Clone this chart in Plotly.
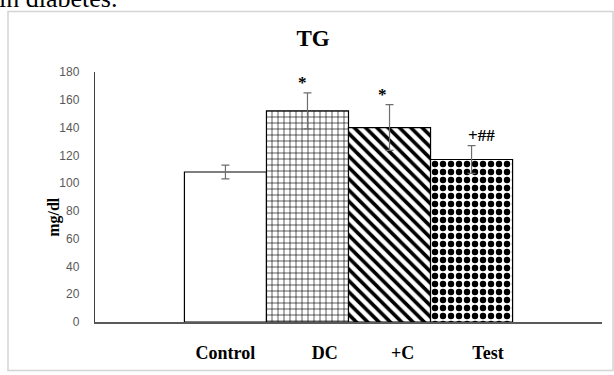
import plotly.graph_objects as go

# ---- data ----
categories = ["Control", "DC", "+C", "Test"]
tg_mean = [108, 152, 140, 117]
tg_err = [5, 13, 16.5, 10]
sig_labels = ["", "*", "*", "+##"]
y_ticks = [0, 20, 40, 60, 80, 100, 120, 140, 160, 180]

# ---- layout geometry (pixels) ----
W, H = 614, 375
PL, PR, PT, PB = 95, 602, 72, 324


def px_x(p):
    return (p - PL) / (PR - PL)


def px_y(p):
    return (PB - p) / (PB - PT)


xs = list(range(len(categories)))
label_pos = [0.0, 1.21, 2.16, 3.2]

fig = go.Figure()
fig.add_trace(go.Bar(
    x=xs,
    y=tg_mean,
    width=1.0,
    error_y=dict(type="data", array=tg_err, visible=True,
                 color="#6e6e6e", thickness=1.2, width=4),
    marker=dict(
        color="white",
        line=dict(color="black", width=1.2),
        pattern=dict(
            shape=["", "+", "\\", "."],
            size=[8, 6, 8, 8],
            solidity=[0.2, 0.2, 0.45, 0.5],
            fgcolor="black",
            bgcolor="white",
            fillmode="replace",
        ),
    ),
    showlegend=False,
    hoverinfo="skip",
))

serif = "Liberation Serif, Times New Roman, serif"

annotations = []
sig_off = [0, -0.06, -0.08, 0.12]
for i, (lab, m, e) in enumerate(zip(sig_labels, tg_mean, tg_err)):
    if lab:
        annotations.append(dict(
            x=i + sig_off[i], y=m + e, xref="x", yref="y",
            text="<b>%s</b>" % lab, showarrow=False,
            yanchor="middle", yshift=10,
            font=dict(family=serif, size=17, color="black"),
        ))

# y axis title
annotations.append(dict(
    x=px_x(43), y=px_y(218), xref="paper", yref="paper",
    text="<b>mg/dl</b>", showarrow=False, textangle=-90,
    font=dict(family=serif, size=16, color="black"),
))
# surrounding document text (cut off at top, as in the reference)
annotations.append(dict(
    x=px_x(-3), y=px_y(-2), xref="paper", yref="paper",
    text="in diabetes.", showarrow=False, xanchor="left", yanchor="middle",
    font=dict(family=serif, size=26, color="black"),
))

fig.update_layout(
    width=W, height=H,
    margin=dict(l=PL, r=W - PR, t=PT, b=H - PB),
    paper_bgcolor="white",
    plot_bgcolor="white",
    title=dict(
        text="<b>TG</b>", x=px_x(313), xref="paper", xanchor="center",
        y=1 - 38 / H, yref="container", yanchor="middle",
        font=dict(family=serif, size=23, color="black"),
    ),
    xaxis=dict(
        range=[-1.59, 4.59],
        tickvals=label_pos,
        ticktext=["<b>%s</b>" % c for c in categories],
        tickfont=dict(family=serif, size=18, color="black"),
        showgrid=False, zeroline=False,
        showline=True, linecolor="#595959", linewidth=1.5,
        ticks="", ticklabelstandoff=14,
        fixedrange=True,
    ),
    yaxis=dict(
        range=[0, 180],
        tickvals=y_ticks,
        tickfont=dict(family="Liberation Sans, Arial, sans-serif", size=12, color="#595959"),
        showgrid=False, zeroline=False,
        showline=True, linecolor="#404040", linewidth=1.2,
        ticks="", ticklabelstandoff=12,
        fixedrange=True,
    ),
    bargap=0,
    annotations=annotations,
    shapes=[dict(
        type="rect", xref="paper", yref="paper",
        x0=px_x(8), x1=px_x(613), y0=px_y(373), y1=px_y(11),
        line=dict(color="#d4d4d4", width=1.5), layer="below",
    )],
)

fig.write_html(
    "out.html",
    config={"displayModeBar": False, "staticPlot": True},
    post_script="document.body.style.margin='0';document.body.style.overflow='hidden';",
)
